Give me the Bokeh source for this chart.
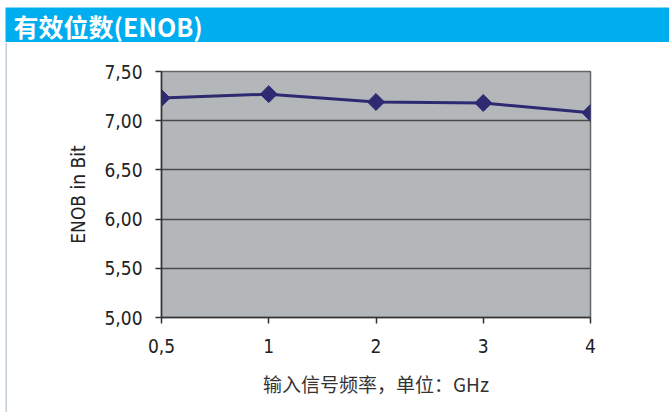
from bokeh.plotting import figure
from bokeh.models import Range1d, FixedTicker
from bokeh.layouts import column, row
from bokeh.core.properties import value
from bokeh.embed import file_html
from bokeh.resources import INLINE
import numpy as np

# data
freq_labels = ["0,5", "1", "2", "3", "4"]
enob = [7.23, 7.27, 7.19, 7.18, 7.08]
y_ticks = [5.0, 5.5, 6.0, 6.5, 7.0, 7.5]
y_tick_labels = ["5,00", "5,50", "6,00", "6,50", "7,00", "7,50"]
title_text = "有效位数(ENOB)"
x_title = "输入信号频率，单位：GHz"
y_title = "ENOB in Bit"

W = 669
BLUE = "#00AEEF"
NARROW = "Liberation Sans Narrow, DejaVu Sans Condensed, Roboto Condensed, Liberation Sans"


def bare(fig):
    fig.grid.visible = False
    fig.outline_line_color = None
    fig.frame_align = False
    return fig


# title bar (pixel-space ranges)
t = bare(figure(width=W, height=42, x_range=Range1d(0, W), y_range=Range1d(0, 42),
                toolbar_location=None, output_backend="svg", min_border=0,
                x_axis_location=None, y_axis_location=None))
t.background_fill_color = "white"
t.border_fill_color = "white"
t.quad(left=[5], right=[W], bottom=[0], top=[35], fill_color=BLUE, line_color=None)
t.text(x=[13], y=[17], text=[title_text], text_baseline="middle", text_align="left",
       text_font=value("Noto Sans CJK SC"), text_font_style="bold",
       text_font_size="25px", text_color="white")

# thin left rule
s = bare(figure(width=7, height=370, x_range=Range1d(0, 7), y_range=Range1d(0, 370),
                toolbar_location=None, output_backend="svg", min_border=0,
                x_axis_location=None, y_axis_location=None))
s.background_fill_color = "white"
s.border_fill_color = "white"
s.quad(left=[5], right=[6.5], bottom=[0], top=[370], fill_color="#c3cdd5", line_color=None)

# main chart
xs = list(range(len(freq_labels)))
p = figure(width=W - 7, height=370, x_range=Range1d(0, len(xs) - 1), y_range=Range1d(5, 7.5),
           toolbar_location=None, output_backend="svg",
           min_border_left=154, min_border_top=29, min_border_right=79, min_border_bottom=95)
p.frame_align = False
p.background_fill_color = "#b4b7ba"
p.border_fill_color = "white"
p.outline_line_color = "#666666"
p.outline_line_width = 1.5

p.xgrid.visible = False
p.ygrid.ticker = FixedTicker(ticks=y_ticks)
p.ygrid.grid_line_color = "#4a4a4a"
p.ygrid.grid_line_width = 1.5

p.yaxis.ticker = FixedTicker(ticks=y_ticks)
p.yaxis.major_label_overrides = {v: s_ for v, s_ in zip(y_ticks, y_tick_labels)}
p.xaxis.ticker = FixedTicker(ticks=xs)
p.xaxis.major_label_overrides = {i: s_ for i, s_ in zip(xs, freq_labels)}

for ax in (p.xaxis[0], p.yaxis[0]):
    ax.axis_line_color = "#333333"
    ax.axis_line_width = 1.5
    ax.major_tick_line_color = "#333333"
    ax.major_tick_line_width = 1.5
    ax.major_tick_out = 6
    ax.major_tick_in = 0
    ax.minor_tick_line_color = None
    ax.major_label_text_font = NARROW
    ax.major_label_text_font_size = "19px"
    ax.major_label_text_color = "#222222"

p.yaxis.major_label_standoff = 13
p.xaxis.major_label_standoff = 15
p.yaxis.axis_label = y_title
p.yaxis.axis_label_text_font = NARROW
p.yaxis.axis_label_text_font_size = "19px"
p.yaxis.axis_label_text_font_style = "normal"
p.yaxis.axis_label_text_color = "#222222"
p.yaxis.axis_label_standoff = 12

p.xaxis.axis_label = x_title
p.xaxis.axis_label_text_font = "Noto Sans CJK SC"
p.xaxis.axis_label_text_font_size = "19px"
p.xaxis.axis_label_text_font_style = "normal"
p.xaxis.axis_label_text_color = "#333333"
p.xaxis.axis_label_standoff = 14

NAVY = "#2d2a72"
p.line(xs, enob, line_color=NAVY, line_width=3)
p.scatter(xs, enob, marker="square", size=12, angle=np.pi / 4,
          fill_color=NAVY, line_color=NAVY)

layout = column(t, row(s, p, spacing=0), spacing=0)
open("out.html", "w").write(file_html(layout, INLINE))
